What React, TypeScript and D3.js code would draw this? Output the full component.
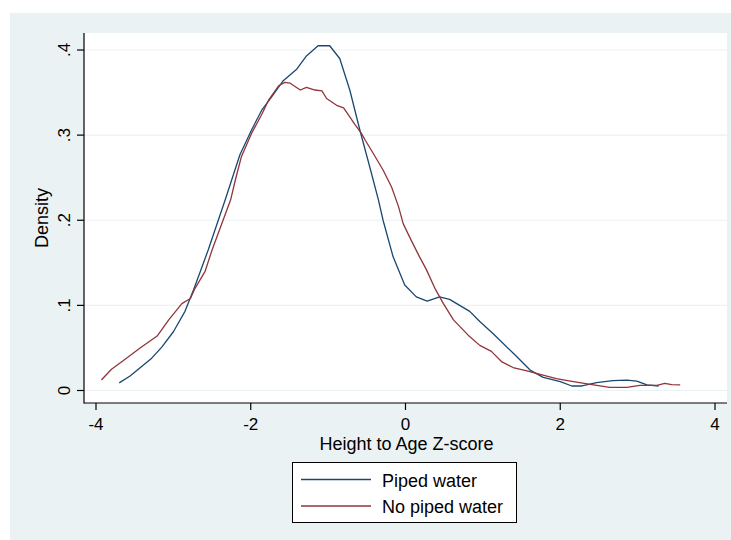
import React, { useEffect, useRef } from "react";
import * as d3 from "d3";

// Piped water kernel density (z-score, density)
const pipedX = [-3.70, -3.56, -3.28, -3.15, -3.00, -2.85, -2.74, -2.55, -2.33, -2.14, -1.99, -1.86, -1.73, -1.58, -1.41, -1.28, -1.13, -0.98, -0.85, -0.72, -0.59, -0.46, -0.35, -0.29, -0.16, -0.01, 0.14, 0.28, 0.44, 0.57, 0.70, 0.83, 0.96, 1.13, 1.39, 1.61, 1.78, 2.00, 2.15, 2.28, 2.47, 2.68, 2.86, 2.99, 3.12, 3.27];
const pipedY = [0.009, 0.017, 0.038, 0.051, 0.069, 0.093, 0.118, 0.165, 0.224, 0.277, 0.306, 0.329, 0.345, 0.364, 0.377, 0.393, 0.405, 0.405, 0.390, 0.353, 0.306, 0.262, 0.224, 0.200, 0.157, 0.124, 0.110, 0.105, 0.110, 0.107, 0.100, 0.093, 0.081, 0.067, 0.044, 0.024, 0.0155, 0.0104, 0.0053, 0.0053, 0.0092, 0.0115, 0.0123, 0.011, 0.0065, 0.0053];

// No piped water kernel density
const noPipedX = [-3.93, -3.80, -3.65, -3.43, -3.21, -3.06, -2.89, -2.78, -2.72, -2.59, -2.50, -2.26, -2.20, -2.12, -1.99, -1.86, -1.77, -1.64, -1.56, -1.49, -1.36, -1.28, -1.17, -1.08, -1.02, -0.89, -0.80, -0.74, -0.65, -0.57, -0.52, -0.42, -0.29, -0.18, -0.09, -0.03, 0.06, 0.17, 0.27, 0.38, 0.49, 0.62, 0.81, 0.96, 1.11, 1.24, 1.39, 1.57, 1.74, 1.95, 2.17, 2.43, 2.64, 2.86, 3.03, 3.25, 3.35, 3.44, 3.55];
const noPipedY = [0.0124, 0.025, 0.035, 0.050, 0.064, 0.083, 0.102, 0.108, 0.120, 0.140, 0.165, 0.224, 0.247, 0.275, 0.302, 0.324, 0.341, 0.358, 0.362, 0.361, 0.353, 0.356, 0.353, 0.352, 0.343, 0.335, 0.332, 0.324, 0.312, 0.302, 0.294, 0.279, 0.259, 0.239, 0.216, 0.196, 0.179, 0.159, 0.142, 0.120, 0.102, 0.083, 0.065, 0.053, 0.046, 0.034, 0.027, 0.023, 0.019, 0.0139, 0.0104, 0.0065, 0.0037, 0.0037, 0.006, 0.006, 0.0085, 0.0068, 0.0065];

const xTicks = [-4, -2, 0, 2, 4];
const yTicks = [0, 0.1, 0.2, 0.3, 0.4];
const yTickLabels = ["0", ".1", ".2", ".3", ".4"];
const seriesNames = ["Piped water", "No piped water"];

const bg = "#eaf2f3";
const navy = "#1a476f";
const maroon = "#90353b";
const font = "Arial, 'Liberation Sans', sans-serif";

const App = () => {
  const ref = useRef<SVGSVGElement>(null);
  const width = 731;
  const height = 540;

  useEffect(() => {
    const svg = d3.select(ref.current);
    svg.selectAll("*").remove();

    const x = d3.scaleLinear().domain([-4, 4]).range([96, 715]);
    const y = d3.scaleLinear().domain([0, 0.4]).range([390.5, 50]);
    const plotL = 84, plotR = 727, plotT = 33, plotB = 403;

    // graph region
    svg.append("rect").attr("x", 10).attr("y", 13)
      .attr("width", width - 10).attr("height", height - 13).attr("fill", bg);
    svg.append("rect").attr("x", plotL).attr("y", plotT)
      .attr("width", plotR - plotL).attr("height", plotB - plotT).attr("fill", "#fff");

    // grid
    svg.append("g").selectAll("line").data(yTicks).join("line")
      .attr("x1", plotL).attr("x2", plotR)
      .attr("y1", d => y(d)).attr("y2", d => y(d))
      .attr("stroke", bg).attr("stroke-width", 1.2);

    // density lines
    const line = d3.line<[number, number]>()
      .x(d => x(d[0])).y(d => y(d[1]));
    const series = [
      { xs: pipedX, ys: pipedY, color: navy },
      { xs: noPipedX, ys: noPipedY, color: maroon },
    ];
    svg.append("g").selectAll("path").data(series).join("path")
      .attr("d", s => line(s.xs.map((v, i) => [v, s.ys[i]] as [number, number])))
      .attr("fill", "none")
      .attr("stroke", s => s.color)
      .attr("stroke-width", 1.3)
      .attr("stroke-linejoin", "round");

    // axes
    const axes = svg.append("g").attr("stroke", "#000").attr("stroke-width", 1.2);
    axes.append("line").attr("x1", plotL).attr("x2", plotL).attr("y1", plotT).attr("y2", plotB + 0.5);
    axes.append("line").attr("x1", plotL).attr("x2", plotR).attr("y1", plotB).attr("y2", plotB);
    axes.selectAll(".yt").data(yTicks).join("line")
      .attr("x1", 77).attr("x2", plotL)
      .attr("y1", d => y(d)).attr("y2", d => y(d));
    axes.selectAll(".xt").data(xTicks).join("line")
      .attr("x1", d => x(d)).attr("x2", d => x(d))
      .attr("y1", plotB).attr("y2", 410);

    const txt = svg.append("g").attr("font-family", font).attr("fill", "#000");
    txt.selectAll(".xl").data(xTicks).join("text")
      .attr("x", d => x(d)).attr("y", 430)
      .attr("font-size", 17)
      .attr("text-anchor", "middle")
      .text(d => String(d));
    txt.selectAll(".yl").data(yTicks).join("text")
      .attr("transform", d => `translate(70,${y(d)}) rotate(-90)`)
      .attr("font-size", 17)
      .attr("text-anchor", "middle")
      .text((d, i) => yTickLabels[i]);
    txt.append("text").attr("transform", "translate(48,218) rotate(-90)")
      .attr("font-size", 18)
      .attr("text-anchor", "middle").text("Density");
    txt.append("text").attr("x", 406.5).attr("y", 450)
      .attr("font-size", 18)
      .attr("text-anchor", "middle").text("Height to Age Z-score");

    // legend
    const lg = svg.append("g");
    lg.append("rect").attr("x", 292.5).attr("y", 462.5).attr("width", 224).attr("height", 60)
      .attr("fill", "#fff").attr("stroke", "#000").attr("stroke-width", 1);
    const items = lg.selectAll("g").data(seriesNames).join("g")
      .attr("transform", (d, i) => `translate(0,${i * 26.5})`);
    items.append("line").attr("x1", 301).attr("x2", 371).attr("y1", 479.5).attr("y2", 479.5)
      .attr("stroke", (d, i) => (i === 0 ? navy : maroon)).attr("stroke-width", 1.3);
    items.append("text").attr("x", 382).attr("y", 486.5)
      .attr("font-family", font).attr("font-size", 18)
      .text(d => d);
  }, []);

  return (
    <svg ref={ref} width={width} height={height}
      style={{ position: "absolute", left: 0, top: 0, background: "#fff" }} />
  );
};

export default App;
